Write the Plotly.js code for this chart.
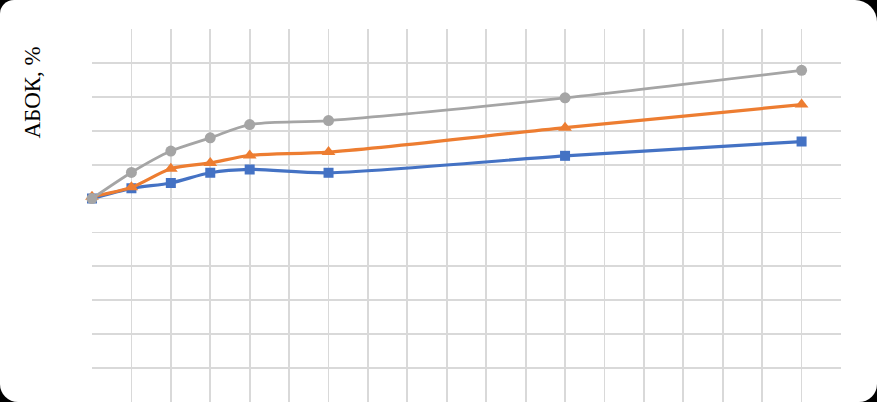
<!DOCTYPE html>
<html>
<head>
<meta charset="utf-8">
<script src="https://cdn.plot.ly/plotly-3.0.1.min.js"></script>
<style>
  html, body { margin: 0; padding: 0; background: #000; }
  #chart {
    width: 877px; height: 402px; background: #fff;
    border-radius: 14px 22px 18px 18px; overflow: hidden;
  }
</style>
</head>
<body>
<div id="chart"></div>
<script>
// Measurement points (x positions) and the three АБОК series
const xPoints = [0, 1, 2, 3, 4, 6, 12, 18];
const seriesBlue   = [0.00, 0.30, 0.46, 0.76, 0.86, 0.76, 1.26, 1.68];
const seriesOrange = [0.05, 0.33, 0.88, 1.05, 1.27, 1.37, 2.09, 2.77];
const seriesGray   = [0.00, 0.77, 1.40, 1.79, 2.18, 2.30, 2.97, 3.78];

const xGrid = [1,2,3,4,5,6,7,8,9,10,11,12,13,14,15,16,17,18];
const yGrid = [-5,-4,-3,-2,-1,0,1,2,3,4];

const yTitle = 'АБОК, %';

function line(y, color, symbol, size, width) {
  return {
    x: xPoints, y: y, type: 'scatter', mode: 'lines+markers',
    line: { color: color, width: width, shape: 'spline', smoothing: 0.8 },
    marker: { color: color, symbol: symbol, size: size },
    cliponaxis: false, showlegend: false, hoverinfo: 'skip'
  };
}

const data = [
  line(seriesBlue,   '#4472C4', 'square',      10, 3.2),
  line(seriesOrange, '#ED7D31', 'triangle-up', 12, 3.2),
  line(seriesGray,   '#A5A5A5', 'circle',      11, 2.8)
];

const layout = {
  width: 877, height: 402,
  margin: { l: 92, r: 36, t: 29, b: 0, pad: 0 },
  paper_bgcolor: 'rgba(0,0,0,0)',
  plot_bgcolor: '#fff',
  xaxis: {
    range: [0, 19], tickvals: xGrid, showticklabels: false, ticks: '',
    showgrid: true, gridcolor: '#d9d9d9', gridwidth: 1.8,
    zeroline: false, showline: false, fixedrange: true
  },
  yaxis: {
    range: [-6, 5], tickvals: yGrid, showticklabels: false, ticks: '',
    showgrid: true, gridcolor: '#d9d9d9', gridwidth: 1.8,
    zeroline: false, showline: false, fixedrange: true
  },
  annotations: [{
    text: yTitle, textangle: -90, showarrow: false,
    xref: 'paper', yref: 'paper', x: -0.08, y: 0.83,
    xanchor: 'center', yanchor: 'middle',
    font: { family: 'Liberation Serif, Times New Roman, serif', size: 23, color: '#000' }
  }]
};

Plotly.newPlot('chart', data, layout, { displayModeBar: false, staticPlot: true });
</script>
</body>
</html>
